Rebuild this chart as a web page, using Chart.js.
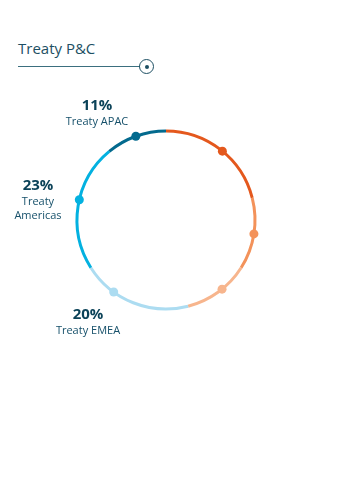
<!DOCTYPE html>
<html>
<head>
<meta charset="utf-8">
<script src="https://cdn.jsdelivr.net/npm/chart.js@4/dist/chart.umd.min.js"></script>
<style>
  body { margin: 0; background: #fff; width: 339px; height: 489px; position: relative; overflow: hidden; font-family: "Open Sans", sans-serif; color: #0b4a5e; }
  #titulo { position: absolute; left: 18px; top: 38px; font-size: 15px; color: #1d4f63; }
  #linea { position: absolute; left: 18px; top: 66px; width: 122px; height: 0; border-top: 1.5px solid #3b6f7f; }
  #icono { position: absolute; left: 139px; top: 59px; width: 13px; height: 13px; border: 1.5px solid #1d4f63; border-radius: 50%; }
  #icono::after { content: ''; position: absolute; left: 4.5px; top: 4.5px; width: 4px; height: 4px; border-radius: 50%; background: #1d4f63; }
  #grafico { position: absolute; left: 66px; top: 120px; width: 200px; height: 200px; }
  .etiqueta { position: absolute; text-align: center; width: 100px; line-height: 13px; }
  .etiqueta b { display: block; font-size: 15px; line-height: 18px; font-weight: 700; color: #0b4258; }
  .etiqueta span { font-size: 11px; color: #16506a; }
</style>
</head>
<body>
<div id="titulo">Treaty P&amp;C</div>
<div id="linea"></div>
<div id="icono"></div>
<div id="grafico"><canvas id="graficoDona"></canvas></div>
<div id="etiquetas"></div>

<script>
// datos
const segmentos = ['Treaty APAC', 'Otro 1', 'Otro 2', 'Otro 3', 'Treaty EMEA', 'Treaty Americas'];
const porcentajes = [11, 21, 13, 12, 20, 23];
const colores = ['#036a8e', '#e4581d', '#f3925a', '#f7b58d', '#acdcf1', '#03b1e0'];
// orden de dibujo: empieza a las 12 en sentido horario, APAC queda al final
const ordenDibujo = [1, 2, 3, 4, 5, 0];

// etiquetas visibles (texto)
const etiquetas = [
    { pct: '11%', nombre: 'Treaty APAC', x: 47, y: 95 },
    { pct: '23%', nombre: 'Treaty<br>Americas', x: -12, y: 175 },
    { pct: '20%', nombre: 'Treaty EMEA', x: 38, y: 304 }
];

let htmlEtiquetas = '';
etiquetas.forEach(function(e) {
    htmlEtiquetas += '<div class="etiqueta" style="left:' + e.x + 'px;top:' + e.y + 'px"><b>' + e.pct + '</b><span>' + e.nombre + '</span></div>';
});
document.getElementById('etiquetas').innerHTML = htmlEtiquetas;

// puntos sobre cada arco (posicion relativa dentro del arco, en orden de dibujo)
const puntosPlugin = {
    id: 'puntos',
    afterDatasetsDraw(chart, args, opts) {
        const ctx = chart.ctx;
        chart.getDatasetMeta(0).data.forEach(function(arc, i) {
            const p = arc.getProps(['x', 'y', 'startAngle', 'endAngle', 'innerRadius', 'outerRadius'], true);
            const f = opts.fracciones[i];
            const a = p.startAngle + (p.endAngle - p.startAngle) * f;
            const r = (p.innerRadius + p.outerRadius) / 2;
            ctx.save();
            ctx.beginPath();
            ctx.arc(p.x + Math.cos(a) * r, p.y + Math.sin(a) * r, 4.5, 0, Math.PI * 2);
            ctx.fillStyle = chart.data.datasets[0].backgroundColor[i];
            ctx.fill();
            ctx.restore();
        });
    }
};

const ctxDona = document.getElementById('graficoDona');
let donaChart = new Chart(ctxDona, {
    type: 'doughnut',
    data: {
        labels: ordenDibujo.map(i => segmentos[i]),
        datasets: [{
            data: ordenDibujo.map(i => porcentajes[i]),
            backgroundColor: ordenDibujo.map(i => colores[i]),
            borderWidth: 0
        }]
    },
    options: {
        responsive: true,
        maintainAspectRatio: false,
        animation: false,
        radius: 90.5,
        cutout: '96.7%',
        rotation: 0,
        plugins: {
            legend: { display: false },
            tooltip: { enabled: false },
            puntos: { fracciones: [0.52, 0.5, 0.43, 0.7, 0.55, 0.5] }
        }
    },
    plugins: [puntosPlugin]
});
</script>
</body>
</html>
